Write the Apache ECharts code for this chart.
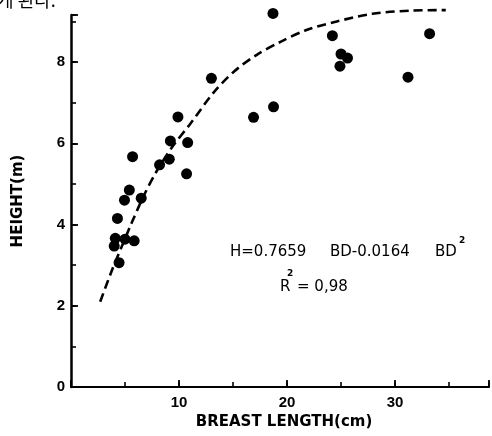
<!DOCTYPE html>
<html>
<head>
<meta charset="utf-8">
<script src="https://cdn.jsdelivr.net/npm/echarts@6/dist/echarts.min.js"></script>
<style>
html,body{margin:0;padding:0;background:#fff;}
#chart{width:492px;height:436px;}
</style>
</head>
<body>
<div id="chart"></div>
<script>
// Observed points
const breastLength = [9.9, 9.2, 10.8, 5.7, 9.1, 8.2, 10.7, 5.4, 4.95, 6.5, 4.3, 4.1, 5.0, 5.85, 4.0, 4.45,
                      13.0, 16.9, 18.75, 18.7, 24.2, 25.0, 25.6, 24.9, 31.2, 33.2];
const height       = [6.65, 6.06, 6.02, 5.67, 5.61, 5.47, 5.25, 4.85, 4.6, 4.65, 4.15, 3.66, 3.64, 3.6, 3.47, 3.06,
                      7.6, 6.64, 6.9, 9.2, 8.65, 8.2, 8.1, 7.9, 7.63, 8.7];
// Fitted curve as drawn
const curveX = [2.7, 3.8, 4.7, 5.6, 6.7, 7.9, 9.4, 11.1, 13.2, 15.1, 17.2, 19.4, 21.8, 24.6, 27.9, 31.6, 34.7];
const curveY = [2.1, 2.88, 3.46, 4.03, 4.69, 5.3, 5.92, 6.5, 7.25, 7.77, 8.18, 8.5, 8.79, 9.0, 9.19, 9.27, 9.28];
// Tick labels
const xTickLabels = [10, 20, 30];
const yTickLabels = [0, 2, 4, 6, 8];

const X_MAX = 38.7, Y_MAX = 9.16;
const chart = echarts.init(document.getElementById('chart'));
const labelFont = {fontFamily: 'Liberation Sans', fontWeight: 'bold', fontSize: 15, color: '#000'};
const txt = (s, x, y, size, bold) => ({
  type: 'text', x: x, y: y,
  style: {text: s, fontFamily: 'DejaVu Sans', fontSize: size, fontWeight: bold ? 'bold' : 'normal',
          fill: '#000', verticalAlign: 'middle', align: 'left'}
});
chart.setOption({
  animation: false,
  backgroundColor: '#fff',
  grid: {left: 71, right: 0, top: 15, bottom: 49},
  xAxis: [{
    type: 'value', min: 0, max: X_MAX, interval: 10, position: 'bottom',
    name: 'BREAST LENGTH(cm)', nameLocation: 'middle', nameGap: 28,
    nameTextStyle: {fontFamily: 'DejaVu Sans', fontWeight: 'bold', fontSize: 15, color: '#000', padding: [0, 0, 0, 8]},
    axisLine: {show: true, lineStyle: {color: '#000', width: 2.2}},
    axisTick: {show: true, inside: true, length: 7, lineStyle: {color: '#000', width: 1.8}},
    axisLabel: Object.assign({margin: 8, formatter: v => xTickLabels.includes(v) ? String(v) : ''}, labelFont),
    splitLine: {show: false}
  }, {
    type: 'value', min: 0, max: X_MAX, interval: 5, position: 'bottom',
    axisLine: {show: false},
    axisTick: {show: true, inside: true, length: 5, lineStyle: {color: '#000', width: 1.6}},
    axisLabel: {show: false}, splitLine: {show: false}
  }],
  yAxis: [{
    type: 'value', min: 0, max: Y_MAX, interval: 2, position: 'left',
    name: 'HEIGHT(m)', nameLocation: 'middle', nameGap: 45,
    nameTextStyle: {fontFamily: 'DejaVu Sans', fontWeight: 'bold', fontSize: 15, color: '#000', padding: [0, 0, 0, 0]},
    axisLine: {show: true, lineStyle: {color: '#000', width: 2.5}},
    axisTick: {show: true, inside: true, length: 7, lineStyle: {color: '#000', width: 1.8}},
    axisLabel: Object.assign({margin: 6, formatter: v => yTickLabels.includes(v) ? String(v) : ''}, labelFont),
    splitLine: {show: false}
  }, {
    type: 'value', min: 0, max: Y_MAX, interval: 1, position: 'left',
    axisLine: {show: false},
    axisTick: {show: true, inside: true, length: 5, lineStyle: {color: '#000', width: 1.6}},
    axisLabel: {show: false}, splitLine: {show: false}
  }],
  series: [{
    type: 'line', xAxisIndex: 0, yAxisIndex: 0, smooth: 0.3, symbol: 'none', clip: false,
    data: curveX.map((x, i) => [x, curveY[i]]),
    lineStyle: {color: '#000', width: 2.6, type: [9, 5]}
  }, {
    type: 'scatter', xAxisIndex: 0, yAxisIndex: 0, clip: false,
    symbol: 'circle', symbolSize: 11,
    itemStyle: {color: '#000', opacity: 1},
    emphasis: {disabled: true},
    data: breastLength.map((x, i) => [x, height[i]])
  }],
  graphic: [{
    type: 'text', left: -3, top: -9,
    style: {text: '게 된다.', fontFamily: 'Noto Sans CJK KR', fontSize: 18, fill: '#000'}
  },
    txt('H=0.7659', 230, 252, 15, false),
    txt('BD-0.0164', 330, 252, 15, false),
    txt('BD', 435, 252, 15, false),
    txt('2', 459, 241, 9, true),
    txt('R', 280, 287, 15, false),
    txt('2', 287, 274, 9, true),
    txt('= 0,98', 297, 287, 15, false)
  ]
});
</script>
</body>
</html>
